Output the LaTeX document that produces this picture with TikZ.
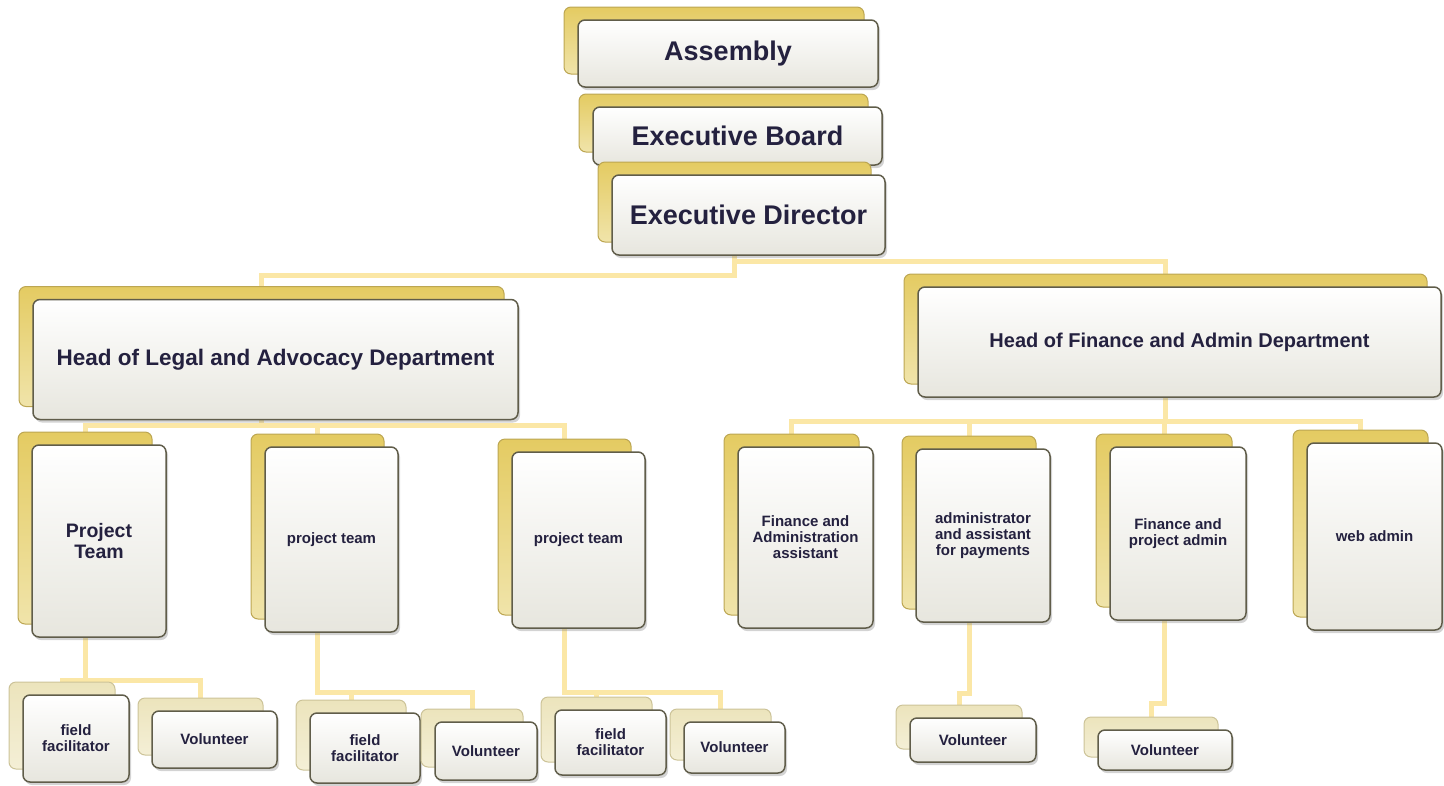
\documentclass[tikz,border=0pt]{standalone}
\usepackage{fontspec}
\setmainfont{Liberation Sans}
\usetikzlibrary{shadows}
\usetikzlibrary{backgrounds}

\definecolor{ink}{RGB}{36,33,63}
\definecolor{goldtop}{RGB}{228,203,98}
\definecolor{goldbot}{RGB}{240,228,170}
\definecolor{goldedge}{RGB}{188,166,82}
\definecolor{paletop}{RGB}{236,228,188}
\definecolor{palebot}{RGB}{244,239,214}
\definecolor{paleedge}{RGB}{204,195,152}
\definecolor{frontedge}{RGB}{96,93,74}
\definecolor{frontbot}{RGB}{231,230,222}
\definecolor{linkcol}{RGB}{251,231,166}

\begin{document}
\begin{tikzpicture}[x=1pt,y=-1pt,
    card/.style={rectangle,rounded corners=7pt,draw=frontedge,line width=1.5pt,
      top color=white,bottom color=frontbot,text=ink,align=center,inner sep=2pt,
      drop shadow={shadow xshift=2pt,shadow yshift=-3pt,opacity=.35}},
    gold card/.style={card,preaction={draw=goldedge,top color=goldtop,bottom color=goldbot,line width=1pt,
      transform canvas={shift={(-14pt,13pt)}}}},
    pale card/.style={card,preaction={draw=paleedge,top color=paletop,bottom color=palebot,line width=1pt,
      transform canvas={shift={(-14pt,13pt)}}}},
    top text/.style={font=\fontsize{27}{30}\selectfont\bfseries},
    small text/.style={font=\fontsize{15}{16}\selectfont\bfseries},
    link/.style={draw=linkcol,line width=5pt}]

  \useasboundingbox (0,0) rectangle (1444,785);

  % top of the chart
  \node[gold card,top text,minimum width=300pt,minimum height=67pt] (asm) at (728,53.5) {Assembly};
  \node[gold card,top text,minimum width=289pt,minimum height=58pt] (board) at (737.5,136) {Executive Board};
  \node[gold card,top text,minimum width=273pt,minimum height=80pt] (dir) at (748.5,215) {Executive Director};

  % departments
  \node[gold card,font=\fontsize{22.5}{26}\selectfont\bfseries,minimum width=485pt,minimum height=120pt]
    (legal) at (275.5,359.5) {Head of Legal and Advocacy Department};
  \node[gold card,font=\fontsize{20}{24}\selectfont\bfseries,minimum width=523pt,minimum height=110pt]
    (fin) at (1179.5,342) {Head of Finance and Admin Department};

  % teams and staff
  \node[gold card,font=\fontsize{19.5}{21}\selectfont\bfseries,minimum width=134pt,minimum height=192pt]
    (team1) at (99,541) {Project\\Team};
  \node[gold card,small text,minimum width=133pt,minimum height=185pt] (team2) at (331.5,539.5) {project team};
  \node[gold card,small text,minimum width=133pt,minimum height=176pt] (team3) at (578.5,540) {project team};
  \node[gold card,small text,minimum width=135pt,minimum height=181pt] (finasst) at (805.5,537.5) {Finance and\\Administration\\assistant};
  \node[gold card,small text,minimum width=134pt,minimum height=173pt] (payasst) at (983,535.5) {administrator\\and assistant\\for payments};
  \node[gold card,small text,minimum width=136pt,minimum height=173pt] (projadm) at (1178,533.5) {Finance and\\project admin};
  \node[gold card,small text,minimum width=135pt,minimum height=187pt] (webadm) at (1374.5,536.5) {web admin};

  % field level
  \node[pale card,small text,minimum width=106pt,minimum height=87pt] (field1) at (76,738.5) {field\\facilitator};
  \node[pale card,small text,minimum width=125pt,minimum height=57pt] (vol1) at (214.5,739.5) {Volunteer};
  \node[pale card,small text,minimum width=110pt,minimum height=70pt] (field2) at (365,748) {field\\facilitator};
  \node[pale card,small text,minimum width=102pt,minimum height=58pt] (vol2) at (486,751) {Volunteer};
  \node[pale card,small text,minimum width=111pt,minimum height=65pt] (field3) at (610.5,742.5) {field\\facilitator};
  \node[pale card,small text,minimum width=101pt,minimum height=51pt] (vol3) at (734.5,747.5) {Volunteer};
  \node[pale card,small text,minimum width=126pt,minimum height=44pt] (vol4) at (973,740) {Volunteer};
  \node[pale card,small text,minimum width=134pt,minimum height=40pt] (vol5) at (1165,750) {Volunteer};

  \begin{scope}[on background layer]
    \draw[link] ([xshift=-14pt]dir.south) -- ++(0,-20pt) -| ([xshift=-14pt]legal.north);
    \draw[link] ([xshift=-14pt]dir.south) -- ++(0,-6pt) -| ([xshift=-14pt]fin.north);

    \draw[link] ([xshift=-14pt]legal.south) -- ++(0,-5pt) -| ([xshift=-14pt]team1.north);
    \draw[link] ([xshift=-14pt]legal.south) -- ++(0,-5pt) -| ([xshift=-14pt]team2.north);
    \draw[link] ([xshift=-14pt]legal.south) -- ++(0,-5pt) -| ([xshift=-14pt]team3.north);

    \draw[link] ([xshift=-14pt]fin.south) -- ++(0,-24pt) -| ([xshift=-14pt]finasst.north);
    \draw[link] ([xshift=-14pt]fin.south) -- ++(0,-24pt) -| ([xshift=-14pt]payasst.north);
    \draw[link] ([xshift=-14pt]fin.south) -- ++(0,-24pt) -| ([xshift=-14pt]projadm.north);
    \draw[link] ([xshift=-14pt]fin.south) -- ++(0,-24pt) -| ([xshift=-14pt]webadm.north);

    \draw[link] ([xshift=-14pt]team1.south) -- ++(0,-43pt) -| ([xshift=-14pt]field1.north);
    \draw[link] ([xshift=-14pt]team1.south) -- ++(0,-43pt) -| ([xshift=-14pt]vol1.north);
    \draw[link] ([xshift=-14pt]team2.south) -- ++(0,-60pt) -| ([xshift=-14pt]field2.north);
    \draw[link] ([xshift=-14pt]team2.south) -- ++(0,-60pt) -| ([xshift=-14pt]vol2.north);
    \draw[link] ([xshift=-14pt]team3.south) -- ++(0,-64pt) -| ([xshift=-14pt]field3.north);
    \draw[link] ([xshift=-14pt]team3.south) -- ++(0,-64pt) -| ([xshift=-14pt]vol3.north);

    \draw[link] ([xshift=-14pt]payasst.south) -- ++(0,-71pt) -| ([xshift=-14pt]vol4.north);
    \draw[link] ([xshift=-14pt]projadm.south) -- ++(0,-83pt) -| ([xshift=-14pt]vol5.north);
  \end{scope}
\end{tikzpicture}
\end{document}
